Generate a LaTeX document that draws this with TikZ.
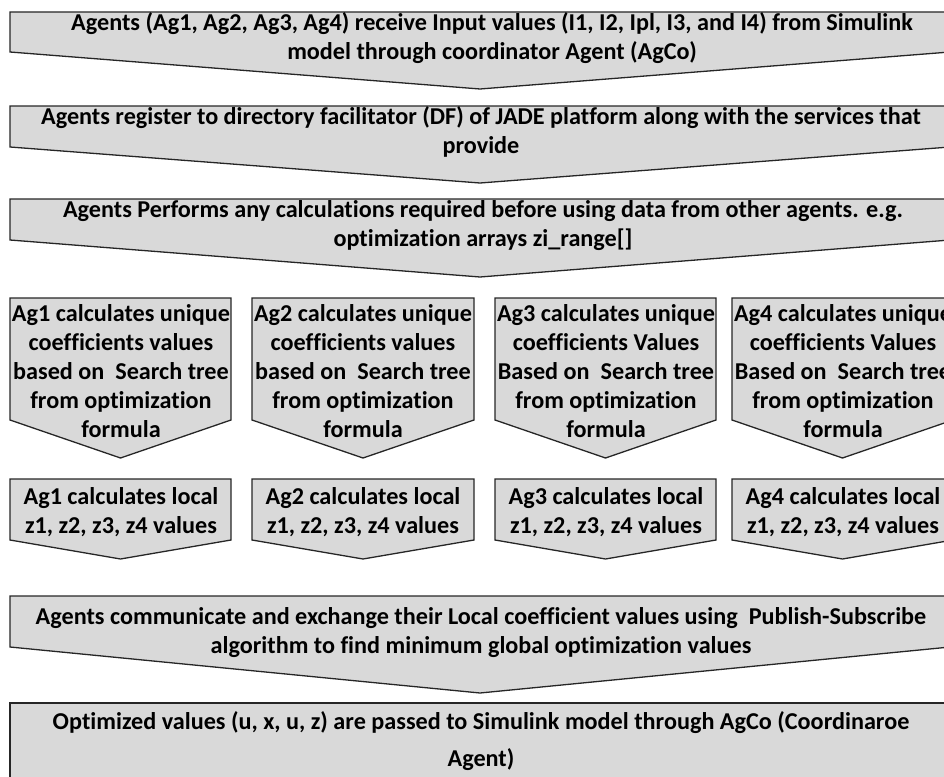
\documentclass[tikz,border=0pt]{standalone}
\usepackage{fontspec}
\setmainfont{Carlito}[RawFeature=-liga]
\begin{document}
\begin{tikzpicture}[x=1pt,y=-1pt,
  boxs/.style={fill=boxgray,draw=black!85,line width=1.3pt,line join=miter},
  txt/.style={inner sep=0pt,align=center,font=\fontsize{24.2}{29}\selectfont\bfseries}]
\definecolor{boxgray}{HTML}{D9D9D9}
\useasboundingbox (0,0) rectangle (944,776);
\begin{scope}
\clip (0,0) rectangle (944,776);
\newcommand\penta[5]{\draw[boxs] (#1,#2) -- (#3,#2) -- (#3,#4) -- ({(#1+#3)/2},#5) -- (#1,#4) -- cycle;}
\penta{10}{12}{950}{52}{89}
\penta{10}{106}{950}{147}{183}
\penta{10}{199}{950}{240}{277}
\penta{10}{298}{231}{420}{458}
\penta{252}{298}{474}{420}{458}
\penta{495}{298}{716}{420}{458}
\penta{732}{298}{953}{420}{458}
\penta{10}{479}{231}{540}{559}
\penta{252}{479}{474}{540}{559}
\penta{495}{479}{716}{540}{559}
\penta{732}{479}{953}{540}{559}
\penta{10}{596}{950}{647}{693}
\draw[boxs] (10,703) rectangle (950,800);
\end{scope}
\node[txt] (t1) at (492,38) {Agents (Ag1, Ag2, Ag3, Ag4) receive Input values (I1, I2, Ipl, I3, and I4) from Simulink\\model through coordinator Agent (AgCo)};
\node[txt] (t2) at (481,132) {Agents register to directory facilitator (DF) of JADE platform along with the services that\\provide};
\node[txt] (t3) at (483,226) {Agents Performs any calculations required before using data from other agents. e.g.\\optimization arrays zi\_range[]};
\node[txt] (a1) at (121,371) {Ag1 calculates unique\\coefficients values\\based on\ \ Search tree\\from optimization\\formula};
\node[txt] (a2) at (363,371) {Ag2 calculates unique\\coefficients values\\based on\ \ Search tree\\from optimization\\formula};
\node[txt] (a3) at (606,371) {Ag3 calculates unique\\coefficients Values\\Based on\ \ Search tree\\from optimization\\formula};
\node[txt] (a4) at (843,371) {Ag4 calculates unique\\coefficients Values\\Based on\ \ Search tree\\from optimization\\formula};
\node[txt] (l1) at (121,512.5) {Ag1 calculates local\\z1, z2, z3, z4 values};
\node[txt] (l2) at (363,512.5) {Ag2 calculates local\\z1, z2, z3, z4 values};
\node[txt] (l3) at (606,512.5) {Ag3 calculates local\\z1, z2, z3, z4 values};
\node[txt] (l4) at (843,512.5) {Ag4 calculates local\\z1, z2, z3, z4 values};
\node[txt] (t6) at (481,632.5) {Agents communicate and exchange their Local coefficient values using\ \ Publish-Subscribe\\algorithm to find minimum global optimization values};
\node[txt,font=\fontsize{24.2}{37}\selectfont\bfseries] (t7) at (481,741.5) {Optimized values (u, x, u, z) are passed to Simulink model through AgCo (Coordinaroe\\Agent)};
\end{tikzpicture}
\end{document}
